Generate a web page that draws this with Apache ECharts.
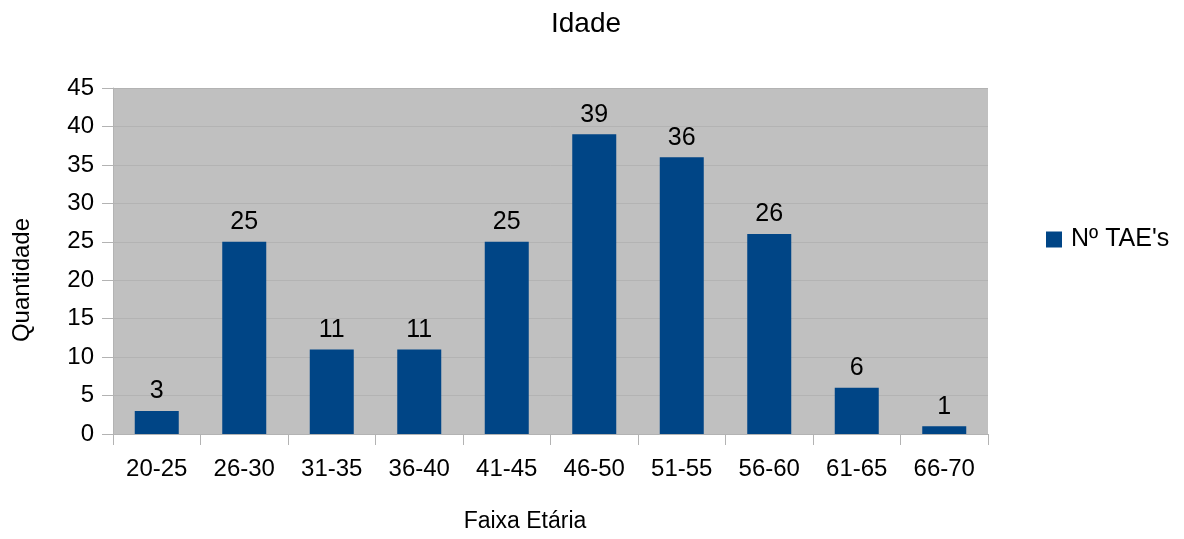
<!DOCTYPE html>
<html><head><meta charset="utf-8">
<script src="https://cdn.jsdelivr.net/npm/echarts@6/dist/echarts.min.js"></script>
<style>html,body{margin:0;padding:0;background:#fff}#c{width:1184px;height:539px}</style>
</head><body><div id="c"></div>
<script>
var categories = ['20-25','26-30','31-35','36-40','41-45','46-50','51-55','56-60','61-65','66-70'];
var values = [3,25,11,11,25,39,36,26,6,1];
var seriesName = "Nº TAE's";
var chart = echarts.init(document.getElementById('c'));
var F = 'Liberation Sans, Arial, sans-serif';
chart.setOption({
  animation:false,
  title:{text:'Idade', left:581, top:5, textAlign:'center', textStyle:{fontFamily:F,fontSize:28,fontWeight:'normal',color:'#000'}},
  legend:{left:1046, top:227, padding:0, itemWidth:16, itemHeight:16, icon:'rect',
    textStyle:{fontFamily:F,fontSize:25,color:'#000', padding:[0,0,0,4]}, data:[seriesName]},
  grid:{left:113, top:88, right:196, bottom:105, show:true, backgroundColor:'#c0c0c0', borderWidth:0},
  xAxis:{type:'category', data:categories,
    axisLine:{lineStyle:{color:'#b3b3b3'}},
    axisTick:{show:true, length:11, lineStyle:{color:'#b3b3b3'}},
    axisLabel:{fontFamily:F,fontSize:24,color:'#000',margin:23}},
  yAxis:{type:'value', min:0, max:45, interval:5,
    axisLine:{show:true,lineStyle:{color:'#b3b3b3'}},
    axisTick:{show:true,length:11,lineStyle:{color:'#b3b3b3'}},
    splitLine:{lineStyle:{color:'#b3b3b3'}},
    axisLabel:{fontFamily:F,fontSize:24,color:'#000',margin:19}},
  graphic:[
    {type:'text', x:525, y:522, style:{text:'Faixa Etária', font:'23px Liberation Sans', fill:'#000', textAlign:'center', textVerticalAlign:'middle'}},
    {type:'text', x:22, y:280, rotation:Math.PI/2, style:{text:'Quantidade', font:'24px Liberation Sans', fill:'#000', textAlign:'center', textVerticalAlign:'middle'}}
  ],
  series:[{type:'bar', name:seriesName, data:values, barWidth:44, itemStyle:{color:'#004586'},
    label:{show:true, position:'top', distance:7, fontFamily:F, fontSize:25, color:'#000'}}]
});
</script></body></html>
